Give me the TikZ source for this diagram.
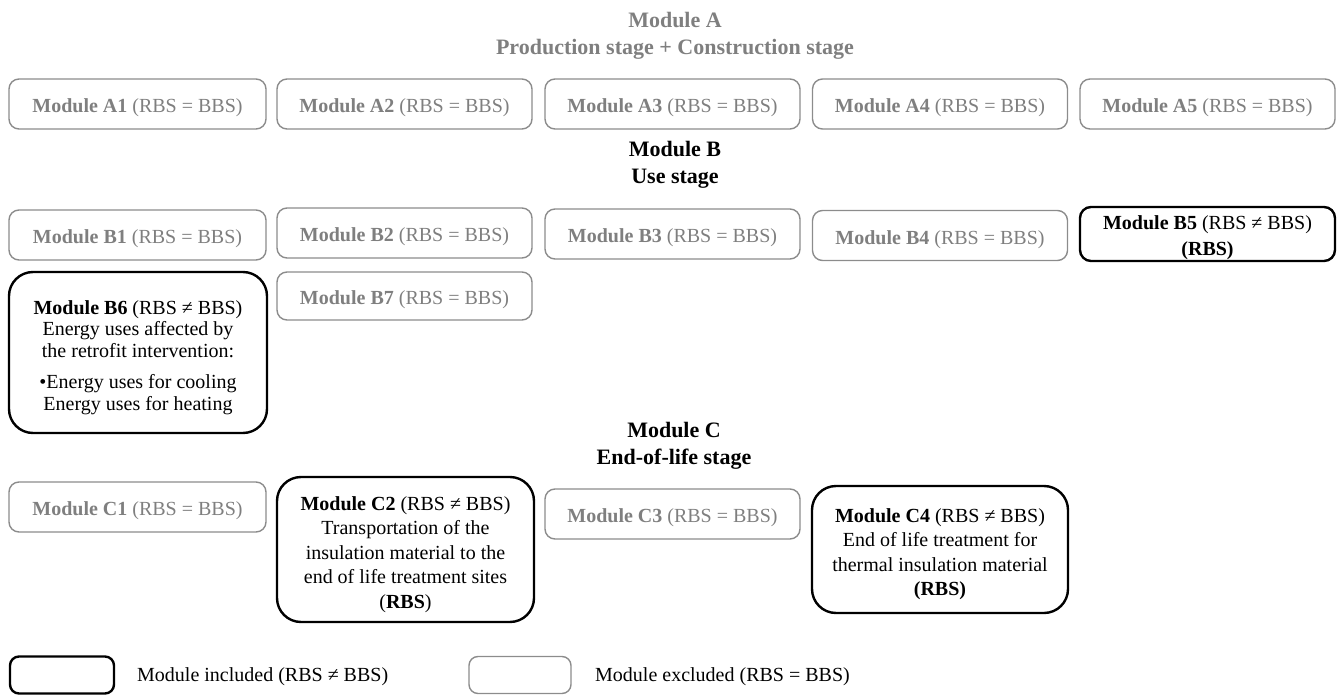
\documentclass[tikz,border=0pt]{standalone}
\usepackage{fontspec}
\setmainfont{Liberation Serif}
\definecolor{extext}{HTML}{7F7F7F}
\definecolor{exline}{HTML}{8C8C8C}
\tikzset{
  basebox/.style={rectangle, align=center, inner sep=0pt, font=\fontsize{20}{22}\selectfont},
  exbox/.style={basebox, draw=exline, line width=1.4pt, rounded corners=10pt, text=extext,
                text height=21pt, text depth=4pt, minimum height=50pt},
  inbox/.style={basebox, draw=black, line width=2.4pt, rounded corners=24pt},
  headtext/.style={anchor=base, inner sep=0pt, font=\fontsize{22}{27}\selectfont\bfseries},
  legtext/.style={anchor=base west, inner sep=0pt, font=\fontsize{20}{22}\selectfont},
}
\begin{document}
\begin{tikzpicture}[x=1pt,y=-1pt]
\useasboundingbox (0,0) rectangle (1338,695);

% Headings
\node[headtext, text=extext] (hA1) at (675,28) {Module A};
\node[headtext, text=extext] (hA2) at (675,55) {Production stage + Construction stage};
\node[headtext] (hB1) at (675,157) {Module B};
\node[headtext] (hB2) at (675,184) {Use stage};
\node[headtext] (hC1) at (674,437) {Module C};
\node[headtext] (hC2) at (674,464) {End-of-life stage};

% Row A
\node[exbox, minimum width=257pt] (A1) at (137.5,104) {\textbf{Module A1} (RBS = BBS)};
\node[exbox, minimum width=255pt] (A2) at (404.5,104) {\textbf{Module A2} (RBS = BBS)};
\node[exbox, minimum width=255pt] (A3) at (672.5,104) {\textbf{Module A3} (RBS = BBS)};
\node[exbox, minimum width=255pt] (A4) at (940,104) {\textbf{Module A4} (RBS = BBS)};
\node[exbox, minimum width=255pt] (A5) at (1207.5,104) {\textbf{Module A5} (RBS = BBS)};

% Row B
\node[exbox, minimum width=257pt] (B1) at (137.5,235) {\textbf{Module B1} (RBS = BBS)};
\node[exbox, minimum width=255pt] (B2) at (404.5,233) {\textbf{Module B2} (RBS = BBS)};
\node[exbox, minimum width=255pt] (B3) at (672.5,234) {\textbf{Module B3} (RBS = BBS)};
\node[exbox, minimum width=255pt] (B4) at (940,235.5) {\textbf{Module B4} (RBS = BBS)};
\node[inbox, rounded corners=11pt, minimum width=255pt, minimum height=54pt,
      font=\fontsize{20}{26}\selectfont, text height=48pt, text depth=4.3pt] (B5) at (1207.5,234)
      {\textbf{Module B5} (RBS ≠ BBS)\\\textbf{(RBS)}};
\node[inbox, minimum width=258pt, minimum height=161pt, font=\fontsize{20}{21.5}\selectfont,
      text height=120pt, text depth=4.3pt] (B6) at (138,352.5)
      {\textbf{Module B6} (RBS ≠ BBS)\\Energy uses affected by\\the retrofit intervention:\\[10pt]•Energy uses for cooling\\Energy uses for heating};
\node[exbox, minimum width=255pt, minimum height=48pt] (B7) at (404.5,296) {\textbf{Module B7} (RBS = BBS)};

% Row C
\node[exbox, minimum width=257pt] (C1) at (137.5,507) {\textbf{Module C1} (RBS = BBS)};
\node[inbox, minimum width=257pt, minimum height=145pt, font=\fontsize{20}{24.5}\selectfont,
      text height=122pt, text depth=4.3pt] (C2) at (405.5,549.5)
      {\textbf{Module C2} (RBS ≠ BBS)\\Transportation of the\\insulation material to the\\end of life treatment sites\\(\textbf{RBS})};
\node[exbox, minimum width=255pt] (C3) at (672.5,514) {\textbf{Module C3} (RBS = BBS)};
\node[inbox, minimum width=256pt, minimum height=127pt, font=\fontsize{20}{24.5}\selectfont,
      text height=96.5pt, text depth=4.3pt] (C4) at (940,549.5)
      {\textbf{Module C4} (RBS ≠ BBS)\\End of life treatment for\\thermal insulation material\\\textbf{(RBS)}};

% Legend
\node[inbox, rounded corners=9pt, minimum width=104pt, minimum height=37pt] (L1) at (62,675) {};
\node[legtext] (L1t) at (137,681) {Module included (RBS ≠ BBS)};
\node[exbox, rounded corners=9pt, minimum width=102pt, minimum height=37pt] (L2) at (520,675) {};
\node[legtext] (L2t) at (595,681) {Module excluded (RBS = BBS)};
\end{tikzpicture}
\end{document}
